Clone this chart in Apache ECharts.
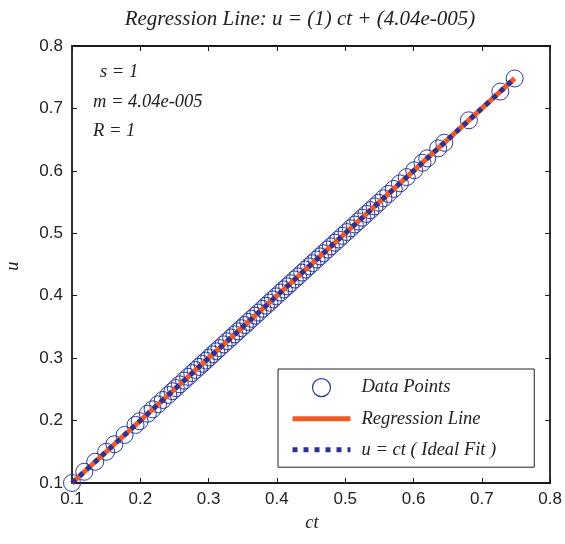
<!DOCTYPE html>
<html>
<head>
<meta charset="utf-8">
<script src="https://cdn.jsdelivr.net/npm/echarts@6/dist/echarts.min.js"></script>
<style>html,body{margin:0;padding:0;background:#fff}#c{width:565px;height:544px}</style>
</head>
<body>
<div id="c"></div>
<script>
// Data points (ct, u)
const ctValues = [0.100, 0.118, 0.134, 0.150, 0.162, 0.177, 0.193, 0.199, 0.211, 0.218, 0.226, 0.233, 0.241, 0.247, 0.252, 0.258, 0.264, 0.270, 0.276, 0.281, 0.286, 0.291, 0.296, 0.301, 0.306, 0.311, 0.316, 0.322, 0.327, 0.333, 0.338, 0.343, 0.348, 0.353, 0.358, 0.363, 0.368, 0.373, 0.379, 0.384, 0.389, 0.394, 0.399, 0.405, 0.410, 0.415, 0.420, 0.426, 0.431, 0.437, 0.442, 0.447, 0.452, 0.458, 0.463, 0.468, 0.474, 0.479, 0.485, 0.490, 0.496, 0.502, 0.508, 0.514, 0.519, 0.525, 0.531, 0.537, 0.543, 0.549, 0.556, 0.563, 0.571, 0.580, 0.590, 0.601, 0.613, 0.620, 0.636, 0.645, 0.681, 0.727, 0.748];
const uValues  = [0.100, 0.118, 0.134, 0.150, 0.162, 0.177, 0.193, 0.199, 0.211, 0.218, 0.226, 0.233, 0.241, 0.247, 0.252, 0.258, 0.264, 0.270, 0.276, 0.281, 0.286, 0.291, 0.296, 0.301, 0.306, 0.311, 0.316, 0.322, 0.327, 0.333, 0.338, 0.343, 0.348, 0.353, 0.358, 0.363, 0.368, 0.373, 0.379, 0.384, 0.389, 0.394, 0.399, 0.405, 0.410, 0.415, 0.420, 0.426, 0.431, 0.437, 0.442, 0.447, 0.452, 0.458, 0.463, 0.468, 0.474, 0.479, 0.485, 0.490, 0.496, 0.502, 0.508, 0.514, 0.519, 0.525, 0.531, 0.537, 0.543, 0.549, 0.556, 0.563, 0.571, 0.580, 0.590, 0.601, 0.613, 0.620, 0.636, 0.645, 0.681, 0.727, 0.748];
// Regression line endpoints: u = 1*ct + 4.04e-5
const regCt = [0.100, 0.748];
const regU  = [0.10004, 0.74804];
// Ideal fit u = ct
const idealCt = [0.100, 0.748];
const idealU  = [0.100, 0.748];
// Axis ticks
const xTicks = [0.1, 0.2, 0.3, 0.4, 0.5, 0.6, 0.7, 0.8];
const yTicks = [0.1, 0.2, 0.3, 0.4, 0.5, 0.6, 0.7, 0.8];
const statLines = ['s = 1', 'm = 4.04e-005', 'R = 1'];
const titleText = 'Regression Line: u = (1) ct + (4.04e-005)';
const legendNames = ['Data Points', 'Regression Line', 'u = ct ( Ideal Fit )'];

const serif = '"Liberation Serif", "DejaVu Serif", serif';
const sans = '"Liberation Sans", Arial, sans-serif';
const zip = (a, b) => a.map((v, i) => [v, b[i]]);

const BLUE_PT = '#2a3a9e';
const ORANGE = '#f15a24';
const NAVY = '#2e3192';

const axisCommon = {
  type: 'value', min: xTicks[0], max: xTicks[xTicks.length - 1], interval: 0.1,
  axisLine: { show: true, onZero: false, lineStyle: { color: '#1a1a1a', width: 1.8 } },
  axisTick: { show: true, inside: true, length: 5, lineStyle: { color: '#1a1a1a', width: 1 } },
  splitLine: { show: false }
};
const labelStyle = { color: '#222', fontFamily: sans, fontSize: 17, formatter: v => v.toFixed(1) };
const ital = (sz) => 'italic ' + sz + 'px ' + serif;

const chart = echarts.init(document.getElementById('c'), null, { renderer: 'canvas' });
chart.setOption({
  animation: false,
  backgroundColor: '#fff',
  grid: { left: 72, right: 13, top: 46, bottom: 61 },
  xAxis: [
    Object.assign({}, axisCommon, { position: 'bottom', axisLabel: Object.assign({ margin: 8 }, labelStyle) }),
    Object.assign({}, axisCommon, { position: 'top', axisLabel: { show: false } })
  ],
  yAxis: [
    Object.assign({}, axisCommon, { min: yTicks[0], max: yTicks[yTicks.length - 1], position: 'left', axisLabel: Object.assign({ margin: 9 }, labelStyle) }),
    Object.assign({}, axisCommon, { min: yTicks[0], max: yTicks[yTicks.length - 1], position: 'right', axisLabel: { show: false } })
  ],
  legend: {
    orient: 'vertical', left: 278, top: 369,
    padding: [9, 38, 8, 12], itemGap: 12, itemWidth: 58, itemHeight: 18,
    borderColor: '#222', borderWidth: 1, backgroundColor: '#fff',
    textStyle: { fontFamily: serif, fontStyle: 'italic', fontSize: 18.5, lineHeight: 18, color: '#222', padding: [0, 0, 0, 6] },
    data: [
      { name: legendNames[0], itemStyle: { color: 'rgba(0,0,0,0)', borderColor: BLUE_PT, borderWidth: 1.2 } },
      { name: legendNames[1], itemStyle: { opacity: 0 }, lineStyle: { color: ORANGE, width: 5, type: 'solid' } },
      { name: legendNames[2], itemStyle: { opacity: 0 }, lineStyle: { color: NAVY, width: 5, type: [5, 6] } }
    ]
  },
  series: [
    {
      name: legendNames[0], type: 'scatter', data: zip(ctValues, uValues),
      symbol: 'circle', symbolSize: 17,
      itemStyle: { color: 'rgba(0,0,0,0)', borderColor: BLUE_PT, borderWidth: 1, opacity: 1 }
    },
    {
      name: legendNames[1], type: 'line', data: zip(regCt, regU), showSymbol: false, symbol: 'none',
      lineStyle: { color: ORANGE, width: 5 }, itemStyle: { color: ORANGE }
    },
    {
      name: legendNames[2], type: 'line', data: zip(idealCt, idealU), showSymbol: false, symbol: 'none',
      lineStyle: { color: NAVY, width: 5, type: [5, 5] }, itemStyle: { color: NAVY }
    }
  ],
  graphic: [
    { type: 'text', x: 300, y: 19, style: { text: titleText, font: ital(21), fill: '#222', align: 'center', verticalAlign: 'middle' } },
    { type: 'text', x: 100, y: 72, style: { text: statLines[0], font: ital(18.5), fill: '#222', verticalAlign: 'middle' } },
    { type: 'text', x: 93, y: 102, style: { text: statLines[1], font: ital(18.5), fill: '#222', verticalAlign: 'middle' } },
    { type: 'text', x: 93, y: 131, style: { text: statLines[2], font: ital(18.5), fill: '#222', verticalAlign: 'middle' } },
    { type: 'text', x: 312, y: 523, style: { text: 'ct', font: ital(18.5), fill: '#222', align: 'center', verticalAlign: 'middle' } },
    { type: 'text', x: 13, y: 266, rotation: Math.PI / 2, style: { text: 'u', font: ital(18.5), fill: '#222', align: 'center', verticalAlign: 'middle' } }
  ]
});
</script>
</body>
</html>
